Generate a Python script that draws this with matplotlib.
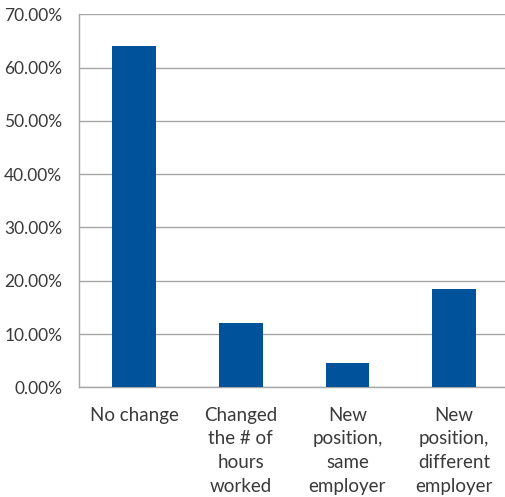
import numpy as np
import matplotlib.pyplot as plt
from matplotlib.ticker import PercentFormatter

# categories and share of respondents (%)
categories = ['No change', 'Changed\nthe # of\nhours\nworked', 'New\nposition,\nsame\nemployer',
              'New\nposition,\ndifferent\nemployer']
shares = [64.0, 12.05, 4.55, 18.45]

plt.rcParams['font.family'] = ['Lato', 'DejaVu Sans']

fig = plt.figure(figsize=(5.06, 4.97), dpi=100)
ax = fig.add_axes([0.156, 0.2207, 0.842, 0.7507])

x = np.arange(len(categories))
ax.bar(x + 0.02, shares, width=0.41, color='#00539B', zorder=3)

ax.set_xlim(-0.5, len(categories) - 0.5)
ax.set_ylim(0, 70)
ax.set_yticks(np.arange(0, 71, 10))
ax.yaxis.set_major_formatter(PercentFormatter(decimals=2))
ax.set_xticks(x + 0.02)
ax.set_xticklabels(categories, linespacing=1.48)

ax.grid(axis='y', color='#A6A6A6', linewidth=1, zorder=0)
for s in ['top', 'right']:
    ax.spines[s].set_visible(False)
for s in ['left', 'bottom']:
    ax.spines[s].set_color('#A6A6A6')
    ax.spines[s].set_linewidth(1)

ax.tick_params(axis='both', length=0, colors='#3a3a3a')
ax.tick_params(axis='x', pad=14, labelsize=13.5)
ax.tick_params(axis='y', pad=12, labelsize=12.5)

fig.savefig('out.png', dpi=100)
